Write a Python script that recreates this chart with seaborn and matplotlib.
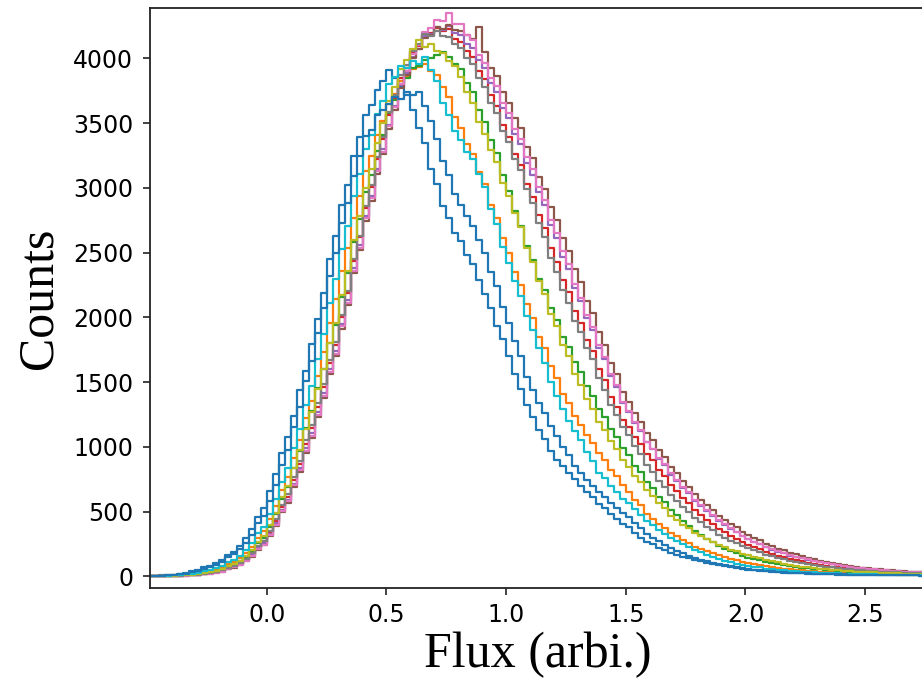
import numpy as np
import pandas as pd
import matplotlib
matplotlib.use("Agg")
import matplotlib.pyplot as plt
import seaborn as sns
from matplotlib.ticker import MultipleLocator

# Histogram bins (flux, arbitrary units)
BIN_START = -0.5
BIN_WIDTH = 0.025
N_BINS = 130

# Counts per bin (11 series)
blue_a = [3, 6, 7, 10, 13, 22, 27, 38, 46, 70, 79, 104, 125, 168, 190, 238,
          296, 368, 462, 530, 660, 790, 955, 1080, 1240, 1440, 1590, 1795,
          1990, 2190, 2450, 2630, 2870, 3020, 3250, 3390, 3560, 3640, 3760, 3830,
          3910, 3850, 3790, 3720, 3600, 3460, 3350, 3150, 3030, 2860, 2770, 2650,
          2590, 2480, 2410, 2290, 2180, 2070, 1930, 1830, 1700, 1560, 1450, 1320,
          1230, 1130, 1060, 970, 900, 850, 800, 750, 700, 650, 610, 560,
          530, 480, 445, 405, 380, 335, 300, 262, 250, 222, 205, 180,
          168, 150, 138, 124, 115, 104, 95, 86, 79, 70, 64, 58,
          52, 47, 42, 38, 33, 31, 28, 27, 24, 23, 20, 19,
          17, 16, 16, 14, 14, 13, 12, 11, 11, 10, 9, 9, 9, 8, 8, 7, 7, 6]

blue_b = [2, 5, 5, 8, 10, 18, 22, 30, 38, 58, 69, 90, 108, 146, 170, 208,
          260, 322, 410, 468, 585, 705, 860, 975, 1150, 1305, 1510, 1660,
          1880, 2070, 2320, 2500, 2730, 2880, 3090, 3250, 3400, 3450, 3560, 3600,
          3650, 3700, 3690, 3740, 3720, 3745, 3630, 3520, 3380, 3210, 3100, 2950,
          2870, 2780, 2710, 2600, 2500, 2350, 2240, 2080, 1960, 1820, 1700, 1540,
          1440, 1340, 1260, 1160, 1085, 1000, 940, 855, 800, 745, 700, 650,
          610, 570, 525, 490, 455, 410, 370, 330, 300, 270, 245, 220,
          195, 178, 160, 145, 130, 118, 106, 96, 86, 78, 71, 64,
          56, 51, 48, 42, 38, 35, 32, 29, 27, 25, 23, 21,
          19, 18, 17, 15, 15, 14, 13, 12, 12, 11, 10, 9, 9, 8, 8, 7, 7, 6]

cyan = [2, 3, 5, 5, 8, 13, 15, 21, 27, 42, 50, 66, 80, 110, 128, 160,
        205, 258, 332, 385, 485, 595, 730, 835, 990, 1140, 1325, 1470,
        1680, 1870, 2110, 2300, 2530, 2710, 2940, 3110, 3300, 3410, 3570, 3670,
        3800, 3860, 3945, 3930, 3980, 3960, 4010, 3910, 3830, 3660, 3560, 3440,
        3370, 3280, 3220, 3110, 3010, 2840, 2720, 2545, 2420, 2280, 2165, 2010,
        1900, 1760, 1645, 1500, 1390, 1290, 1200, 1120, 1050, 960, 890, 800,
        760, 700, 650, 600, 565, 520, 475, 430, 395, 360, 330, 300,
        272, 248, 225, 205, 185, 168, 150, 136, 122, 108, 96, 86,
        82, 74, 69, 60, 56, 51, 47, 42, 39, 36, 34, 31,
        29, 27, 25, 23, 21, 20, 18, 17, 16, 15, 14, 13, 12, 11, 10, 9, 9, 8]

orange = [2, 3, 4, 4, 7, 11, 12, 17, 22, 36, 42, 57, 70, 97, 113, 142,
          182, 230, 300, 348, 440, 545, 670, 770, 915, 1050, 1225, 1355,
          1550, 1735, 1960, 2140, 2360, 2540, 2770, 2940, 3130, 3250, 3410, 3520,
          3650, 3725, 3830, 3860, 3920, 3935, 3960, 3900, 3870, 3780, 3700, 3550,
          3460, 3340, 3260, 3120, 3030, 2870, 2770, 2610, 2500, 2350, 2250, 2100,
          1995, 1850, 1760, 1625, 1535, 1410, 1340, 1235, 1170, 1090, 1030, 950,
          895, 825, 775, 705, 655, 590, 548, 482, 445, 405, 375, 335,
          308, 280, 260, 230, 213, 195, 181, 162, 150, 136, 127, 113,
          104, 95, 88, 78, 72, 66, 60, 55, 50, 47, 43, 40,
          37, 34, 32, 29, 27, 25, 23, 21, 19, 18, 17, 16, 15, 14, 13, 12, 11, 10]

olive = [1, 2, 2, 4, 5, 8, 10, 13, 18, 28, 34, 45, 57, 80, 96, 121,
         158, 204, 266, 310, 395, 492, 610, 700, 840, 975, 1140, 1270,
         1445, 1600, 1800, 1955, 2170, 2355, 2600, 2780, 3000, 3150, 3350, 3500,
         3670, 3780, 3920, 3990, 4070, 4140, 4090, 4110, 4060, 4040, 3980, 3940,
         3860, 3740, 3660, 3510, 3420, 3290, 3200, 3040, 2940, 2810, 2700, 2540,
         2425, 2280, 2180, 2030, 1930, 1790, 1700, 1565, 1480, 1370, 1295, 1195,
         1130, 1045, 985, 900, 845, 778, 732, 665, 620, 565, 525, 470,
         436, 400, 370, 334, 310, 285, 266, 240, 223, 206, 193, 176,
         164, 150, 140, 125, 116, 107, 99, 88, 82, 76, 71, 65,
         60, 56, 52, 47, 43, 40, 37, 34, 32, 30, 28, 26, 24, 23, 21, 20, 19, 18]

green = [1, 2, 3, 3, 5, 7, 9, 12, 17, 26, 32, 42, 54, 77, 93, 117,
         153, 198, 258, 300, 385, 480, 600, 690, 835, 970, 1145, 1275,
         1455, 1605, 1800, 1945, 2160, 2340, 2580, 2760, 2970, 3100, 3285, 3410,
         3570, 3680, 3800, 3850, 3930, 3945, 3990, 4000, 4030, 4050, 4010, 3960,
         3920, 3810, 3740, 3600, 3510, 3370, 3270, 3100, 2980, 2820, 2710, 2550,
         2445, 2300, 2210, 2075, 1980, 1845, 1770, 1655, 1580, 1470, 1395, 1295,
         1230, 1140, 1080, 990, 935, 855, 805, 725, 680, 615, 575, 510,
         472, 428, 392, 348, 318, 287, 263, 232, 212, 193, 178, 158,
         144, 132, 123, 110, 101, 94, 87, 78, 72, 67, 62, 57,
         53, 49, 46, 42, 39, 36, 34, 31, 29, 27, 25, 23, 21, 20, 19, 18, 17, 16]

gray = [1, 2, 2, 3, 4, 6, 8, 10, 14, 22, 27, 36, 46, 67, 81, 103,
        136, 177, 234, 272, 352, 440, 552, 635, 768, 892, 1052, 1172,
        1340, 1485, 1670, 1810, 2020, 2205, 2450, 2630, 2860, 3020, 3240, 3390,
        3585, 3715, 3870, 3950, 4060, 4110, 4190, 4170, 4210, 4175, 4165, 4110,
        4080, 4000, 3955, 3850, 3780, 3660, 3580, 3440, 3355, 3220, 3135, 2990,
        2885, 2730, 2625, 2460, 2350, 2210, 2115, 1975, 1885, 1760, 1675, 1530,
        1440, 1320, 1250, 1150, 1090, 1005, 945, 860, 805, 740, 692, 625,
        580, 533, 497, 448, 416, 383, 357, 323, 300, 276, 258, 234,
        217, 200, 186, 167, 154, 142, 133, 120, 111, 103, 95, 86,
        79, 74, 69, 63, 58, 54, 50, 46, 43, 40, 37, 34, 32, 30, 28, 26, 25, 24]

red = [1, 1, 2, 3, 4, 5, 8, 9, 13, 20, 25, 34, 44, 63, 77, 98,
       130, 170, 226, 264, 340, 428, 535, 615, 745, 870, 1025, 1145,
       1310, 1460, 1645, 1790, 2000, 2190, 2435, 2620, 2845, 3010, 3220, 3375,
       3565, 3695, 3850, 3930, 4050, 4100, 4185, 4195, 4235, 4210, 4225, 4150,
       4130, 4060, 4015, 3905, 3840, 3715, 3635, 3490, 3395, 3260, 3175, 3030,
       2930, 2790, 2690, 2535, 2430, 2290, 2195, 2050, 1955, 1825, 1740, 1605,
       1515, 1385, 1310, 1210, 1155, 1075, 1025, 945, 895, 825, 778, 705,
       658, 605, 565, 510, 474, 435, 405, 365, 339, 312, 292, 266,
       246, 226, 210, 188, 173, 159, 148, 133, 124, 115, 106, 96,
       89, 82, 76, 69, 64, 59, 55, 50, 46, 44, 41, 38, 35, 33, 31, 29, 27, 26]

purple = [1, 1, 2, 3, 4, 5, 7, 8, 12, 19, 23, 31, 40, 59, 73, 93,
          124, 163, 217, 254, 328, 410, 512, 590, 712, 836, 988, 1105,
          1270, 1415, 1600, 1740, 1950, 2135, 2380, 2560, 2785, 2940, 3150, 3300,
          3490, 3630, 3795, 3885, 4015, 4075, 4170, 4190, 4240, 4220, 4250, 4200,
          4185, 4115, 4080, 3985, 3925, 3810, 3745, 3620, 3540, 3415, 3340, 3195,
          3100, 2965, 2870, 2715, 2610, 2470, 2375, 2230, 2130, 1995, 1905, 1765,
          1675, 1545, 1465, 1340, 1270, 1185, 1125, 1040, 985, 910, 860, 785,
          738, 682, 640, 582, 543, 502, 469, 427, 397, 367, 343, 313,
          289, 267, 249, 225, 207, 191, 178, 161, 150, 139, 128, 117,
          108, 100, 92, 84, 77, 72, 66, 61, 56, 52, 49, 45, 42, 39, 36, 33, 31, 30]

pink = [1, 1, 2, 2, 3, 4, 6, 7, 11, 17, 21, 28, 37, 55, 69, 89,
        119, 157, 209, 245, 318, 400, 502, 580, 702, 822, 972, 1087,
        1250, 1395, 1580, 1720, 1930, 2115, 2360, 2540, 2765, 2920, 3130, 3280,
        3475, 3625, 3800, 3900, 4035, 4105, 4205, 4235, 4300, 4290, 4350, 4270,
        4265, 4180, 4140, 4025, 3965, 3850, 3785, 3655, 3580, 3455, 3380, 3240,
        3150, 3005, 2910, 2755, 2650, 2510, 2410, 2255, 2150, 2015, 1925, 1785,
        1695, 1565, 1480, 1350, 1280, 1190, 1130, 1040, 985, 915, 865, 795,
        748, 692, 650, 592, 553, 510, 477, 433, 402, 370, 345, 313,
        290, 268, 250, 227, 210, 194, 181, 164, 153, 142, 131, 120,
        111, 103, 95, 86, 79, 74, 68, 63, 58, 54, 50, 46, 43, 40, 37, 34, 32, 31]

brown = [1, 1, 2, 2, 3, 4, 6, 7, 11, 16, 20, 27, 36, 54, 66, 86,
         116, 153, 205, 240, 312, 392, 494, 568, 690, 808, 956, 1068,
         1230, 1375, 1560, 1700, 1910, 2095, 2340, 2520, 2745, 2900, 3110, 3260,
         3455, 3605, 3775, 3875, 4005, 4070, 4160, 4185, 4240, 4230, 4260, 4220,
         4210, 4180, 4150, 4240, 4050, 3930, 3865, 3740, 3660, 3540, 3460, 3320,
         3230, 3085, 2995, 2850, 2750, 2610, 2515, 2375, 2275, 2130, 2035, 1890,
         1790, 1650, 1560, 1425, 1350, 1260, 1195, 1105, 1050, 975, 922, 848,
         796, 738, 693, 633, 592, 548, 513, 468, 436, 404, 378, 346,
         321, 297, 277, 251, 232, 215, 201, 182, 169, 157, 145, 132,
         121, 113, 104, 95, 87, 81, 75, 68, 63, 59, 54, 50, 47, 44, 40, 37, 35, 34]

series = [
    ("s1", blue_a, "#1f77b4"),
    ("s2", orange, "#ff7f0e"),
    ("s3", green, "#2ca02c"),
    ("s4", red, "#d62728"),
    ("s5", purple, "#9467bd"),
    ("s6", brown, "#8c564b"),
    ("s7", pink, "#e377c2"),
    ("s8", gray, "#7f7f7f"),
    ("s9", olive, "#bcbd22"),
    ("s10", cyan, "#17becf"),
    ("s11", blue_b, "#1f77b4"),
]

centers = BIN_START + BIN_WIDTH * (np.arange(N_BINS) + 0.5)
bin_range = (BIN_START, BIN_START + BIN_WIDTH * N_BINS)

fig = plt.figure(figsize=(9.22, 6.80), dpi=100)
ax = fig.add_axes([150 / 922, 1 - 588 / 680, 775 / 922, 580 / 680])

for name, counts, color in series:
    assert len(counts) == N_BINS, (name, len(counts))
    df = pd.DataFrame({"flux": centers, "count": counts})
    sns.histplot(data=df, x="flux", weights="count", binwidth=BIN_WIDTH,
                 binrange=bin_range, element="step", fill=False,
                 color=color, linewidth=1.6, ax=ax)

ax.set_xlim(-0.488, 2.75)
ax.set_ylim(-90, 4390)
ax.xaxis.set_major_locator(MultipleLocator(0.5))
ax.yaxis.set_major_locator(MultipleLocator(500))
ax.tick_params(axis="both", labelsize=17, length=5, width=1.2, color="#222222")
ax.tick_params(axis="y", pad=7)
ax.tick_params(axis="x", pad=6)
for side in ["left", "bottom", "top"]:
    ax.spines[side].set_linewidth(1.3)
    ax.spines[side].set_color("#222222")
ax.spines["right"].set_visible(False)

ax.set_xlabel("Flux (arbi.)", fontfamily="Liberation Serif", fontsize=36)
ax.set_ylabel("Counts", fontfamily="Liberation Serif", fontsize=36)
ax.xaxis.label.set_verticalalignment("baseline")
ax.xaxis.set_label_coords(0.5, -(667 - 588) / 580)
ax.yaxis.label.set_verticalalignment("baseline")
ax.yaxis.set_label_coords(-(150 - 52) / 775, 0.5)

fig.savefig("out.png", dpi=100)
